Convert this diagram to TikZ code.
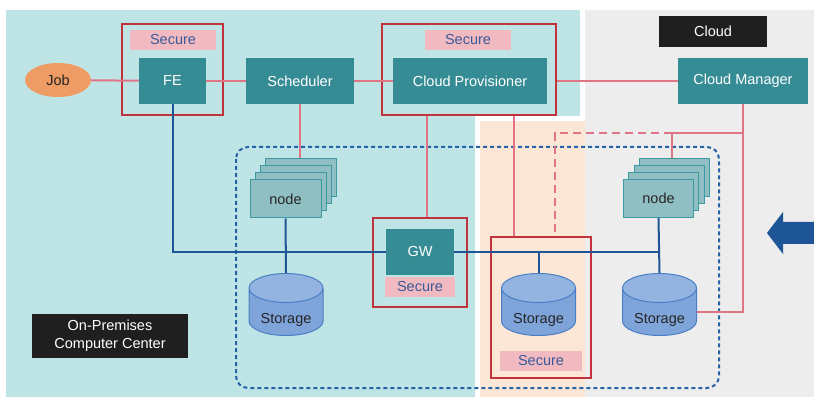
\documentclass[tikz,border=0pt]{standalone}
\usepackage{fontspec}
\setmainfont{Liberation Sans}
\usetikzlibrary{arrows.meta,positioning,shapes.geometric}

\definecolor{premcyan}{HTML}{BFE4E6}
\definecolor{cloudgray}{HTML}{EDEDED}
\definecolor{bridgepeach}{HTML}{FCE6D6}
\definecolor{tealbox}{HTML}{368C94}
\definecolor{jobfill}{HTML}{EE9B64}
\definecolor{securered}{HTML}{C0323C}
\definecolor{securepink}{HTML}{F0BAC0}
\definecolor{securetext}{HTML}{3C5A9A}
\definecolor{pinklink}{HTML}{E27585}
\definecolor{bluelink}{HTML}{1D5596}
\definecolor{nodefill}{HTML}{8FBEC3}
\definecolor{nodeedge}{HTML}{3E9AA2}
\definecolor{diskbody}{HTML}{7EA4D9}
\definecolor{disktop}{HTML}{93B4E1}
\definecolor{diskedge}{HTML}{4A7FC6}
\definecolor{clusterblue}{HTML}{2563A6}

\newcommand{\disklabel}[1]{\raisebox{-8pt}[\height][\depth]{#1}}

\begin{document}
\begin{tikzpicture}[
    x=1pt, y=-1pt,
    font=\fontsize{14.5}{18.3}\selectfont,
    unit/.style={fill=tealbox, text=white, minimum height=46pt, inner sep=0pt},
    secureframe/.style={draw=securered, line width=2.2pt, inner sep=0pt},
    securetag/.style={fill=securepink, text=securetext, minimum height=20pt, inner sep=0pt},
    caption/.style={fill=black!88, text=white, align=center, inner sep=0pt},
    compute/.style={draw=nodeedge, fill=nodefill, line width=1pt, minimum width=71pt, minimum height=38pt, inner sep=0pt, text=black!85},
    disk/.style={cylinder, shape border rotate=90, aspect=0.57, draw=diskedge, line width=1pt,
      cylinder uses custom fill, cylinder body fill=diskbody, cylinder end fill=disktop,
      minimum width=74pt, minimum height=62pt, inner sep=0pt, text=black!85},
    pinkline/.style={draw=pinklink, line width=2pt},
    blueline/.style={draw=bluelink, line width=2pt}
  ]
    \useasboundingbox (0,0) rectangle (814,398);

    % site backgrounds
    \fill[premcyan] (6,10) -- (580,10) -- (580,116) -- (475,116) -- (475,397) -- (6,397) -- cycle;
    \fill[cloudgray] (585,10) rectangle (814,397);
    \fill[bridgepeach] (480,121) rectangle (585,397);

    % compute cluster
    \draw[clusterblue, line width=2pt, dash pattern=on 4pt off 3pt, rounded corners=12pt]
      (236,147) rectangle (719,388);

    % front end and control path
    \node[ellipse, fill=jobfill, minimum width=66pt, minimum height=34pt, inner sep=0pt, text=black!85] (job) at (58,80) {Job};
    \node[unit, minimum width=67pt] (fe) at (172.5,81) {FE};
    \node[unit, minimum width=108pt] (sched) at (300,81) {Scheduler};
    \node[unit, minimum width=154pt] (prov) at (470,81) {Cloud Provisioner};
    \node[unit, minimum width=130pt] (cm) at (743,81) {Cloud Manager};
    \node[unit, minimum width=68pt] (gw) at (420,252) {GW};

    \node[secureframe, minimum width=101pt, minimum height=91pt] (feframe) at (172.5,69.5) {};
    \node[secureframe, minimum width=174pt, minimum height=91pt] (provframe) at (469,69.5) {};
    \node[secureframe, minimum width=94pt, minimum height=89pt] (gwframe) at (420,262.5) {};
    \node[secureframe, minimum width=100pt, minimum height=141pt] (stoframe) at (541,307.5) {};

    \node[securetag, minimum width=86pt] (fetag) at (173,40) {Secure};
    \node[securetag, minimum width=86pt] (provtag) at (468,40) {Secure};
    \node[securetag, minimum width=70pt] (gwtag) at (420,287) {Secure};
    \node[securetag, minimum width=82pt] (stotag) at (541,361) {Secure};

    \node[caption, minimum width=108pt, minimum height=31pt] (cloudcap) at (713,31.5) {Cloud};
    \node[caption, minimum width=156pt, minimum height=44pt] (premcap) at (110,336) {On-Premises\\Computer Center};

    % stacked compute nodes, back to front
    \foreach \k in {3,2,1} {
      \node[compute] (nodeL\k) at ({285.5+5.3*\k},{199-7*\k}) {};
      \node[compute, minimum width=70pt] (nodeR\k) at ({658.5+5.3*\k},{198.5-7*\k}) {};
    }
    \node[compute] (nodeL0) at (285.5,199) {node};
    \node[compute, minimum width=70pt] (nodeR0) at (658.5,198.5) {node};

    \node[disk] (diskL) at (286,312) {\disklabel{Storage}};
    \node[disk] (diskM) at (538.5,312) {\disklabel{Storage}};
    \node[disk] (diskR) at (659.5,312) {\disklabel{Storage}};

    % control links
    \draw[pinkline] (job) -- (fe);
    \draw[pinkline] (fe) -- (sched);
    \draw[pinkline] (sched) -- (prov);
    \draw[pinkline] (provframe.east |- cm.west) -- (cm.west);
    \draw[pinkline] (sched.south) -- (sched.south |- nodeL3.north);
    \draw[pinkline] ([xshift=-42pt]provframe.south) -- ([xshift=-42pt]provframe.south |- gwframe.north);
    \draw[pinkline] ([xshift=45pt]provframe.south) -- ([xshift=45pt]provframe.south |- stoframe.north);
    \coordinate (split) at (cm.south |- 0,133);
    \draw[pinkline] (cm.south) |- (diskR.east);
    \draw[pinkline] (split) -| ([xshift=-2pt]nodeR3.north);
    \draw[pinkline, dash pattern=on 8pt off 5pt] ([xshift=-2pt]nodeR3.north |- split) -| ([xshift=14pt]stoframe.north);

    % data links
    \draw[blueline] (fe.south) |- (gw.west);
    \draw[blueline] (gw.east) -- (nodeR0.south |- gw.east);
    \draw[blueline] (diskM.north) -- (diskM.north |- gw.east);
    \draw[blueline] (nodeL0.south) -- (diskL.north);
    \draw[blueline] (nodeR0.south) -- (diskR.north);

    % migration arrow
    \fill[bluelink] (814,222) -- (783,222) -- (783,212) -- (767,233) -- (783,254) -- (783,244) -- (814,244) -- cycle;
  \end{tikzpicture}
\end{document}
